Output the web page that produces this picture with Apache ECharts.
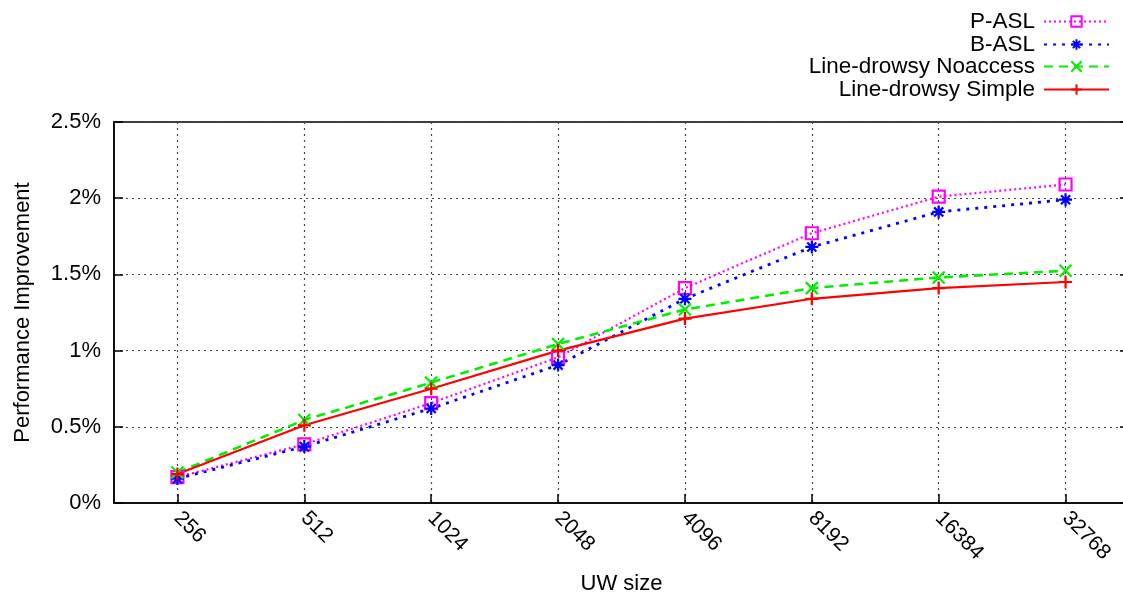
<!DOCTYPE html>
<html><head><meta charset="utf-8">
<script src="https://cdn.jsdelivr.net/npm/echarts@6/dist/echarts.min.js"></script>
<style>html,body{margin:0;padding:0;background:#fff}#c{width:1123px;height:600px}</style>
</head><body><div id="c"></div>
<script>
const categories = ['256','512','1024','2048','4096','8192','16384','32768'];
const pASL     = [0.17, 0.385, 0.656, 0.956, 1.41, 1.77, 2.01, 2.09];
const bASL     = [0.16, 0.37, 0.62, 0.905, 1.34, 1.68, 1.91, 1.99];
const noaccess = [0.20, 0.545, 0.79, 1.043, 1.27, 1.41, 1.48, 1.524];
const simple   = [0.19, 0.51, 0.75, 1.00, 1.21, 1.34, 1.41, 1.45];
const seriesNames = ['P-ASL','B-ASL','Line-drowsy Noaccess','Line-drowsy Simple'];
const yTicks = [0, 0.5, 1, 1.5, 2, 2.5];

const FONT = 'Liberation Sans, Arial, Helvetica, sans-serif';
const SQ = 'path://M0,0L10,0L10,10L0,10Z';
const AST = 'path://M5,0L5,10M0,5L10,5M1.5,1.5L8.5,8.5M8.5,1.5L1.5,8.5';
const XS = 'path://M0,0L10,10M10,0L0,10';
const PL = 'path://M5,0L5,10M0,5L10,5';

function mk(name, data, color, type, width, symbol, size) {
  return {
    name, type: 'line', data, symbol, symbolSize: size, showAllSymbol: true,
    lineStyle: { color, type, width },
    itemStyle: { color: 'rgba(0,0,0,0)', borderColor: color, borderWidth: 2.2 },
    emphasis: { disabled: true }, animation: false, z: 3
  };
}
const colors = ['#ff00ff', '#0000ff', '#00ee00', '#ff0000'];
const series = [
  mk(seriesNames[0], pASL, colors[0], [2, 3], 2.2, SQ, 12),
  mk(seriesNames[1], bASL, colors[1], [3, 6], 2.8, AST, 13),
  mk(seriesNames[2], noaccess, colors[2], [9, 6], 2.6, XS, 12),
  mk(seriesNames[3], simple, colors[3], 'solid', 2.2, PL, 13)
];
const legendTops = [5, 28, 50, 73];
const legends = seriesNames.map((n, i) => ({
  data: [n], right: 8, top: legendTops[i], orient: 'vertical', align: 'right',
  itemWidth: 65, itemHeight: 13, itemGap: 14,
  textStyle: { fontFamily: FONT, fontSize: 22.5, color: '#000', padding: [0, 4, 0, 0] },
  selectedMode: false
}));

const chart = echarts.init(document.getElementById('c'), null, { renderer: 'canvas' });
chart.setOption({
  backgroundColor: '#fff',
  animation: false,
  legend: legends,
  grid: { left: 114, right: -6, top: 122, bottom: 97, outerBoundsMode: 'none', containLabel: false,
    show: true, borderColor: '#000', borderWidth: 1.5, backgroundColor: 'transparent' },
  xAxis: {
    type: 'category', data: categories, boundaryGap: true,
    name: 'UW size', nameLocation: 'middle', nameGap: 70,
    nameTextStyle: { fontFamily: FONT, fontSize: 22, color: '#000' },
    axisLine: { show: true, lineStyle: { color: '#000', width: 1.5 } },
    axisTick: { show: true, inside: true, alignWithLabel: true, length: 9, lineStyle: { color: '#000', width: 1.5 } },
    axisLabel: { rotate: -45, fontFamily: FONT, fontSize: 21, color: '#000', margin: 12, interval: 0 },
    splitLine: { show: true, alignWithLabel: true, lineStyle: { color: '#444', type: [2, 4], width: 1.2 } }
  },
  yAxis: [{
    type: 'value', min: 0, max: 2.5, interval: 0.5,
    name: 'Performance Improvement', nameLocation: 'middle', nameGap: 80,
    nameTextStyle: { fontFamily: FONT, fontSize: 22, color: '#000' },
    axisLine: { show: true, lineStyle: { color: '#000', width: 1.5 } },
    axisTick: { show: true, inside: true, length: 9, lineStyle: { color: '#000', width: 1.5 } },
    axisLabel: { fontFamily: FONT, fontSize: 22, color: '#000', margin: 13,
      formatter: v => (yTicks.indexOf(v) >= 0 ? String(v) + '%' : '') },
    splitLine: { show: true, lineStyle: { color: '#444', type: [2, 4], width: 1.2 } }
  }, {
    type: 'value', min: 0, max: 2.5, interval: 0.5, position: 'right',
    axisLine: { show: false }, axisLabel: { show: false }, splitLine: { show: false },
    axisTick: { show: true, inside: true, length: 9, lineStyle: { color: '#000', width: 1.5 } }
  }],
  series
});
</script></body></html>
